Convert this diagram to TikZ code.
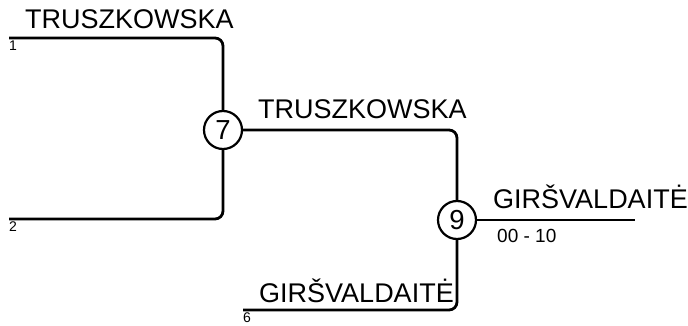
\documentclass[tikz,border=0pt]{standalone}
\usepackage{fontspec}
\setmainfont{Liberation Sans}
\begin{document}
\begin{tikzpicture}[x=1pt,y=-1pt,
  wire/.style={line width=2.8pt,rounded corners=8pt},
  match/.style={draw,circle,line width=2.2pt,minimum size=38pt,inner sep=0pt,fill=white,font=\fontsize{27.5}{29}\selectfont},
  player/.style={anchor=base west,inner sep=0pt,font=\fontsize{27}{30}\selectfont},
  seed/.style={anchor=north west,inner sep=0pt,font=\fontsize{14}{15}\selectfont},
  score/.style={anchor=base west,inner sep=0pt,font=\fontsize{19}{21}\selectfont}]
\useasboundingbox (0,0) rectangle (688,326);
\coordinate (s1) at (9,38);
\coordinate (s2) at (9,219);
\coordinate (s6) at (243,310);
\coordinate (fin) at (635,220);
\node[match] (c7) at (223,130) {7};
\node[match] (c9) at (457,220) {9};
\draw[wire] (s1) -| (c7.north);
\draw[wire] (s2) -| (c7.south);
\draw[wire] (c7.east) -| (c9.north);
\draw[wire] (s6) -| (c9.south);
\draw[wire] (c9.east) -- (fin);
\node[player] (n1) at (25,29) {TRUSZKOWSKA};
\node[player] (n7) at (258,119) {TRUSZKOWSKA};
\node[player] (n9) at (493,208) {GIRŠVALDAITĖ};
\node[player] (n6) at (259,302) {GIRŠVALDAITĖ};
\node[seed] (l1) at (9,41) {1};
\node[seed] (l2) at (9,222) {2};
\node[seed] (l6) at (243,313) {6};
\node[score] (sc) at (497,242) {00 - 10};
\end{tikzpicture}
\end{document}
